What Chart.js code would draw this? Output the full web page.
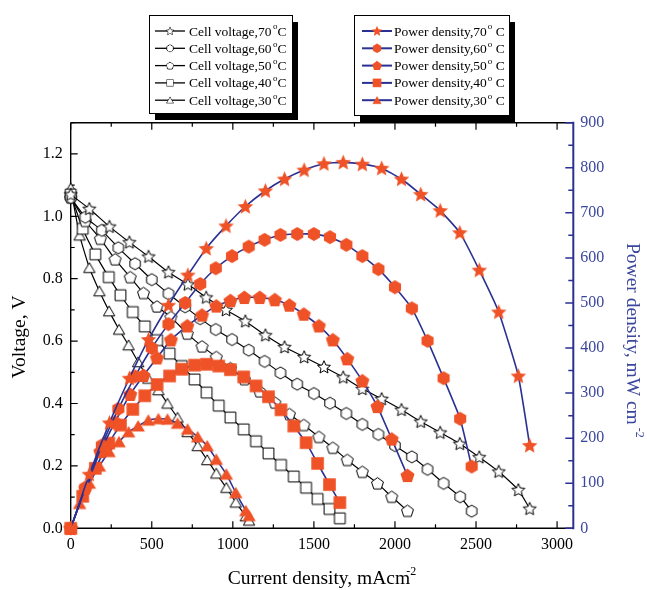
<!DOCTYPE html>
<html><head><meta charset="utf-8">
<script src="https://cdn.jsdelivr.net/npm/chart.js@4.4.1/dist/chart.umd.min.js"></script>
<style>html,body{margin:0;padding:0;background:#fff}#wrap{position:relative;width:647px;height:590px}</style>
</head><body><div id="wrap"><canvas id="c" width="647" height="590"></canvas></div>
<script>
// ---- data ----
const temperatures = ['70', '60', '50', '40', '30'];

const current70 = [0, 115, 239, 362, 480, 603, 723, 836, 958, 1077, 1201, 1319, 1440, 1562, 1681, 1799, 1918, 2040, 2159, 2279, 2400, 2520, 2640, 2761, 2831];
const voltage70 = [1.07, 1.024, 0.967, 0.917, 0.871, 0.821, 0.782, 0.740, 0.700, 0.664, 0.619, 0.581, 0.549, 0.517, 0.484, 0.447, 0.415, 0.380, 0.342, 0.307, 0.271, 0.228, 0.182, 0.123, 0.063];
const power70   = [0, 120, 234, 333, 419, 495, 562, 621, 671, 714, 749, 775, 795, 809, 812, 808, 799, 775, 741, 705, 656, 573, 480, 338, 184];

const current60 = [0, 90, 192, 294, 397, 500, 603, 706, 799, 895, 995, 1098, 1196, 1294, 1397, 1500, 1599, 1700, 1799, 1898, 2000, 2104, 2201, 2300, 2402, 2473];
const voltage60 = [1.06, 0.997, 0.955, 0.899, 0.848, 0.797, 0.752, 0.710, 0.672, 0.637, 0.605, 0.571, 0.535, 0.498, 0.462, 0.432, 0.401, 0.368, 0.333, 0.301, 0.265, 0.229, 0.189, 0.144, 0.101, 0.055];
const power60   = [0, 90, 184, 265, 337, 400, 453, 500, 542, 577, 604, 625, 640, 651, 653, 653, 646, 629, 604, 575, 535, 488, 416, 333, 243, 137];

const current50 = [0, 90, 183, 274, 367, 449, 532, 618, 719, 810, 898, 985, 1071, 1166, 1259, 1349, 1438, 1531, 1617, 1706, 1799, 1892, 1980, 2077];
const voltage50 = [1.06, 0.985, 0.928, 0.862, 0.805, 0.754, 0.711, 0.677, 0.624, 0.583, 0.549, 0.513, 0.478, 0.439, 0.403, 0.366, 0.331, 0.293, 0.258, 0.219, 0.181, 0.144, 0.101, 0.056];
const power50   = [0, 89, 170, 236, 297, 339, 378, 418, 449, 473, 493, 505, 512, 512, 507, 495, 475, 449, 418, 376, 327, 270, 198, 117];

const current40 = [0, 74, 152, 235, 307, 383, 457, 533, 610, 685, 764, 838, 913, 985, 1067, 1143, 1220, 1297, 1376, 1452, 1523, 1596, 1660];
const voltage40 = [1.07, 0.960, 0.878, 0.805, 0.747, 0.693, 0.647, 0.603, 0.560, 0.520, 0.477, 0.435, 0.393, 0.355, 0.317, 0.279, 0.240, 0.203, 0.166, 0.130, 0.094, 0.062, 0.032];
const power40   = [0, 71, 133, 189, 229, 264, 294, 319, 338, 353, 362, 364, 360, 352, 336, 316, 292, 263, 227, 190, 144, 97, 57];

const current30 = [0, 55, 115, 177, 237, 298, 357, 416, 479, 541, 597, 659, 721, 783, 842, 898, 960, 1018, 1080, 1100];
const voltage30 = [1.09, 0.939, 0.835, 0.760, 0.696, 0.637, 0.587, 0.533, 0.480, 0.443, 0.400, 0.355, 0.309, 0.264, 0.219, 0.176, 0.130, 0.083, 0.039, 0.025];
const power30   = [0, 55, 100, 138, 170, 192, 214, 227, 240, 243, 242, 233, 220, 203, 183, 153, 120, 79, 39, 28];

const xRange = [0, 3100], xStep = 500;
const vRange = [0, 1.3], vStep = 0.2;
const pRange = [0, 900], pStep = 100;

const xTitle = ['Current density, mAcm', '-2'];
const vTitle = 'Voltage, V';
const pTitle = ['Power density, mW cm', '-2'];

// ---- styling ----
const FONT = '"Liberation Serif","Times New Roman",serif';
const ORANGE = '#ef5226', BLUE = '#2b3192', BLUE_TXT = '#3b479d';

function marker(shape, r, fill, stroke, lw) {
  const pad = Math.ceil(lw || 0) + 1;
  const s = Math.ceil(2 * r + 2 * pad);
  const cv = document.createElement('canvas'); cv.width = s; cv.height = s;
  const g = cv.getContext('2d'); const c = s / 2;
  g.beginPath();
  const poly = (n, off) => { for (let i = 0; i < n; i++) { const a = -Math.PI / 2 + i * 2 * Math.PI / n; g.lineTo(c + r * Math.cos(a), c + off + r * Math.sin(a)); } g.closePath(); };
  if (shape === 'star') {
    for (let i = 0; i < 10; i++) { const a = -Math.PI / 2 + i * Math.PI / 5; const rr = i % 2 ? r * 0.46 : r; g.lineTo(c + rr * Math.cos(a), c + 0.5 + rr * Math.sin(a)); }
    g.closePath();
  } else if (shape === 'hex') poly(6, 0);
  else if (shape === 'pent') poly(5, 0.5);
  else if (shape === 'tri') poly(3, r * 0.22);
  else if (shape === 'square') g.rect(c - r, c - r, 2 * r, 2 * r);
  if (fill) { g.fillStyle = fill; g.fill(); }
  if (stroke) { g.strokeStyle = stroke; g.lineWidth = lw; g.stroke(); }
  return cv;
}
const shapes = ['star', 'hex', 'pent', 'square', 'tri'];
const openR = { star: 6.8, hex: 6.0, pent: 6.3, square: 5.4, tri: 6.6 };
const fillR = { star: 8.2, hex: 7.0, pent: 7.4, square: 6.3, tri: 7.8 };
const openMk = {}, fillMk = {};
shapes.forEach(s => { openMk[s] = marker(s, openR[s], '#fff', '#000', 1); fillMk[s] = marker(s, fillR[s], ORANGE, null, 0); });

const series = [
  { t: temperatures[0], I: current70, V: voltage70, P: power70, shape: 'star' },
  { t: temperatures[1], I: current60, V: voltage60, P: power60, shape: 'hex' },
  { t: temperatures[2], I: current50, V: voltage50, P: power50, shape: 'pent' },
  { t: temperatures[3], I: current40, V: voltage40, P: power40, shape: 'square' },
  { t: temperatures[4], I: current30, V: voltage30, P: power30, shape: 'tri' }
];
const pts = (xs, ys) => xs.map((x, i) => ({ x: x, y: ys[i] }));

const datasets = [];
series.forEach(s => {
  datasets.push({
    label: 'Cell voltage,' + s.t + '°C', data: pts(s.I, s.V), yAxisID: 'y',
    showLine: true, borderColor: '#000', borderWidth: 1.2, pointStyle: openMk[s.shape],
    pointRadius: 6, clip: false, order: 2, kind: 'V', shape: s.shape, temp: s.t
  });
});
series.forEach(s => {
  datasets.push({
    label: 'Power density,' + s.t + '° C', data: pts(s.I, s.P), yAxisID: 'y2',
    showLine: true, borderColor: BLUE, borderWidth: 1.6, pointStyle: fillMk[s.shape],
    pointRadius: 6, clip: false, order: 1, kind: 'P', shape: s.shape, temp: s.t
  });
});

function stepTicks(step) {
  return function (scale) {
    const out = [];
    for (let v = scale.min; v <= scale.max + step * 1e-6; v += step) out.push({ value: Math.round(v / step) * step });
    scale.ticks = out;
  };
}

// ---- frame, inward ticks ----
const framePlugin = {
  id: 'frame',
  beforeDatasetsDraw(chart) {
    const { ctx, chartArea: a, scales } = chart;
    const x = scales.x, y = scales.y, y2 = scales.y2;
    const minors = (sc, step) => { const out = []; for (let v = sc.min + step / 2; v < sc.max + 1e-9; v += step) out.push(v); return out; };
    ctx.save();
    ctx.strokeStyle = '#000'; ctx.lineWidth = 1.4;
    ctx.beginPath();
    ctx.moveTo(a.left, a.top); ctx.lineTo(a.left, a.bottom); ctx.lineTo(a.right, a.bottom);
    ctx.moveTo(a.left, a.top); ctx.lineTo(a.right, a.top);
    ctx.stroke();
    ctx.lineWidth = 1.2;
    ctx.beginPath();
    x.ticks.forEach(t => { const p = x.getPixelForValue(t.value); ctx.moveTo(p, a.bottom); ctx.lineTo(p, a.bottom - 7); ctx.moveTo(p, a.top); ctx.lineTo(p, a.top + 7); });
    minors(x, xStep).forEach(v => { const p = x.getPixelForValue(v); ctx.moveTo(p, a.bottom); ctx.lineTo(p, a.bottom - 4); ctx.moveTo(p, a.top); ctx.lineTo(p, a.top + 4); });
    y.ticks.forEach(t => { const p = y.getPixelForValue(t.value); ctx.moveTo(a.left, p); ctx.lineTo(a.left + 7, p); });
    minors(y, vStep).forEach(v => { const p = y.getPixelForValue(v); ctx.moveTo(a.left, p); ctx.lineTo(a.left + 4, p); });
    ctx.stroke();
    ctx.strokeStyle = BLUE; ctx.lineWidth = 2;
    ctx.beginPath(); ctx.moveTo(a.right, a.top - 1); ctx.lineTo(a.right, a.bottom + 1); ctx.stroke();
    ctx.lineWidth = 1.5;
    ctx.beginPath();
    y2.ticks.forEach(t => { const p = y2.getPixelForValue(t.value); ctx.moveTo(a.right, p); ctx.lineTo(a.right - 8, p); });
    minors(y2, pStep).forEach(v => { const p = y2.getPixelForValue(v); ctx.moveTo(a.right, p); ctx.lineTo(a.right - 5, p); });
    ctx.stroke();
    ctx.restore();
  }
};

// ---- titles and legends ----
function drawSupText(ctx, main, sup, x, y, size, supSize, supDy, gap) {
  ctx.font = size + 'px ' + FONT;
  ctx.fillText(main, x, y);
  const w = ctx.measureText(main).width;
  ctx.font = supSize + 'px ' + FONT;
  ctx.fillText(sup, x + w + gap, y - supDy);
  return w + gap + ctx.measureText(sup).width;
}
const decoPlugin = {
  id: 'deco',
  afterDraw(chart) {
    const { ctx, chartArea: a } = chart;
    ctx.save();
    ctx.textBaseline = 'alphabetic'; ctx.textAlign = 'left';
    // x title
    ctx.fillStyle = '#000';
    ctx.font = '19.5px ' + FONT;
    const w1 = ctx.measureText(xTitle[0]).width;
    ctx.font = '12px ' + FONT;
    const w2 = ctx.measureText(xTitle[1]).width;
    const tot = w1 + w2 - 4;
    drawSupText(ctx, xTitle[0], xTitle[1], (a.left + a.right) / 2 - tot / 2, 584, 19.5, 12, 9, -4);
    // left title
    ctx.save();
    ctx.translate(25, 337); ctx.rotate(-Math.PI / 2);
    ctx.font = '19.5px ' + FONT; ctx.textAlign = 'center';
    ctx.fillText(vTitle, 0, 0);
    ctx.restore();
    // right title
    ctx.save();
    ctx.fillStyle = BLUE_TXT;
    ctx.translate(627, 243); ctx.rotate(Math.PI / 2);
    drawSupText(ctx, pTitle[0], pTitle[1], 0, 0, 19.5, 12, 9, 3);
    ctx.restore();

    // legends
    const drawBox = (x0, y0, w, h) => {
      ctx.fillStyle = '#000'; ctx.fillRect(x0 + 6, y0 + 7, w, h);
      ctx.fillStyle = '#fff'; ctx.fillRect(x0, y0, w, h);
      ctx.strokeStyle = '#000'; ctx.lineWidth = 1; ctx.strokeRect(x0 + 0.5, y0 + 0.5, w, h);
    };
    drawBox(149, 15, 143, 98);
    drawBox(354, 15, 155, 100);
    const rows = [31, 48.3, 65.6, 82.9, 100.2];
    const vSets = chart.data.datasets.filter(d => d.kind === 'V');
    const pSets = chart.data.datasets.filter(d => d.kind === 'P');
    ctx.textBaseline = 'middle';
    vSets.forEach((d, i) => {
      const yy = rows[i];
      ctx.strokeStyle = '#000'; ctx.lineWidth = 1.3;
      ctx.beginPath(); ctx.moveTo(155, yy); ctx.lineTo(185, yy); ctx.stroke();
      const m = d.pointStyle, sc = 0.62;
      ctx.drawImage(m, 170 - m.width * sc / 2, yy - m.height * sc / 2, m.width * sc, m.height * sc);
      ctx.fillStyle = '#000';
      ctx.font = '13.5px ' + FONT;
      const main = 'Cell voltage,' + d.temp;
      ctx.fillText(main, 189, yy + 1);
      let w = ctx.measureText(main).width;
      ctx.font = '9px ' + FONT;
      ctx.fillText('o', 189 + w + 1.5, yy - 4);
      const ow = ctx.measureText('o').width;
      ctx.font = '13.5px ' + FONT;
      ctx.fillText('C', 189 + w + 1.5 + ow, yy + 1);
    });
    pSets.forEach((d, i) => {
      const yy = rows[i];
      ctx.strokeStyle = BLUE; ctx.lineWidth = 2;
      ctx.beginPath(); ctx.moveTo(362, yy); ctx.lineTo(392, yy); ctx.stroke();
      const m = d.pointStyle, sc = 0.68;
      ctx.drawImage(m, 377 - m.width * sc / 2, yy - m.height * sc / 2, m.width * sc, m.height * sc);
      ctx.fillStyle = '#000';
      ctx.font = '13.5px ' + FONT;
      const main = 'Power density,' + d.temp;
      ctx.fillText(main, 394, yy + 1);
      let w = ctx.measureText(main).width;
      ctx.font = '9px ' + FONT;
      ctx.fillText('o', 394 + w + 1, yy - 4);
      const ow = ctx.measureText('o').width;
      ctx.font = '13.5px ' + FONT;
      ctx.fillText(' C', 394 + w + 1 + ow, yy + 1);
    });
    ctx.restore();
  }
};

Chart.defaults.color = '#000';
new Chart(document.getElementById('c'), {
  type: 'scatter',
  data: { datasets: datasets },
  options: {
    responsive: false, animation: false, events: [],
    layout: { padding: { top: 122.7, left: 0, right: 0, bottom: 0 } },
    plugins: { legend: { display: false }, title: { display: false }, tooltip: { enabled: false } },
    elements: { line: { tension: 0.15 } },
    scales: {
      x: {
        type: 'linear', min: xRange[0], max: xRange[1],
        grid: { display: false, drawTicks: false }, border: { display: false },
        ticks: { padding: 7, maxRotation: 0, autoSkip: false,
          font: { family: FONT, size: 16 }, color: '#000', callback: v => String(v) },
        afterBuildTicks: stepTicks(xStep),
        afterFit(s) { s.height = 61.7; }
      },
      y: {
        type: 'linear', position: 'left', min: vRange[0], max: vRange[1],
        grid: { display: false, drawTicks: false }, border: { display: false },
        ticks: { padding: 8, autoSkip: false,
          font: { family: FONT, size: 16 }, color: '#000', callback: v => Number(v).toFixed(1) },
        afterBuildTicks: stepTicks(vStep),
        afterFit(s) { s.width = 70.7; }
      },
      y2: {
        type: 'linear', position: 'right', min: pRange[0], max: pRange[1],
        grid: { display: false, drawTicks: false }, border: { display: false },
        ticks: { padding: 7, autoSkip: false,
          font: { family: FONT, size: 16 }, color: BLUE_TXT, callback: v => String(v) },
        afterBuildTicks: stepTicks(pStep),
        afterFit(s) { s.width = 73.7; }
      }
    }
  },
  plugins: [framePlugin, decoPlugin]
});
</script>
</body></html>
